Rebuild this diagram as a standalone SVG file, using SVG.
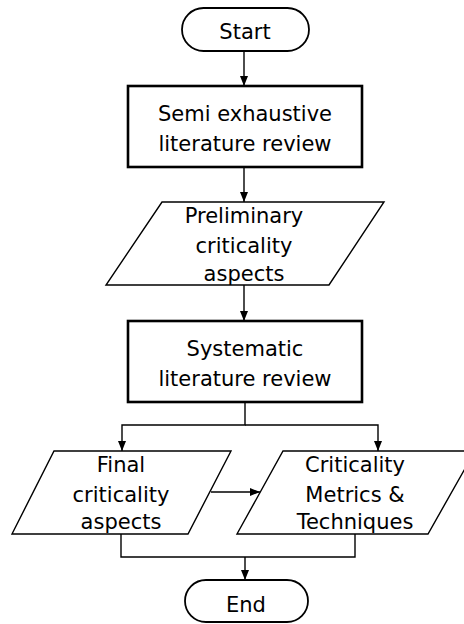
<svg xmlns="http://www.w3.org/2000/svg" width="464" height="624" viewBox="0 0 464 624">
<defs>
<marker id="ah" markerUnits="userSpaceOnUse" markerWidth="10" markerHeight="10" viewBox="0 0 10 10" refX="10" refY="5" orient="auto">
<path d="M0,1 L10,5 L0,9 Z" fill="#000"/>
</marker>
<style>
text{font-family:"DejaVu Sans","Liberation Sans",sans-serif;font-size:21px;fill:#000;text-anchor:middle}
.term{fill:#fff;stroke:#000;stroke-width:1.8}
.proc{fill:#fff;stroke:#000;stroke-width:2.6}
.io{fill:#fff;stroke:#000;stroke-width:1.4}
.c{fill:none;stroke:#000;stroke-width:1.4}
</style>
</defs>
<rect width="464" height="624" fill="#fff"/>
<g id="connectors">
<line class="c" x1="244" y1="51" x2="244" y2="86" marker-end="url(#ah)"/>
<line class="c" x1="244" y1="167" x2="244" y2="202" marker-end="url(#ah)"/>
<line class="c" x1="244" y1="285" x2="244" y2="321" marker-end="url(#ah)"/>
<polyline class="c" points="245,402 245,425 122,425 122,451" marker-end="url(#ah)"/>
<polyline class="c" points="245,425 378,425 378,451" marker-end="url(#ah)"/>
<line class="c" x1="211" y1="492" x2="260" y2="492" marker-end="url(#ah)"/>
<polyline class="c" points="121,534 121,557 355,557 355,534"/>
<line class="c" x1="245" y1="557" x2="245" y2="580" marker-end="url(#ah)"/>
</g>
<g id="start">
<rect class="term" x="182" y="8" width="127" height="43" rx="21.5"/>
<text x="245" y="39">Start</text>
</g>
<g id="semi">
<rect class="proc" x="128" y="86" width="234" height="81"/>
<text x="245" y="121">Semi exhaustive</text>
<text x="245" y="151">literature review</text>
</g>
<g id="prelim">
<polygon class="io" points="162,202 384,202 329,285 106,285"/>
<text x="244" y="223">Preliminary</text>
<text x="244" y="253">criticality</text>
<text x="244" y="281">aspects</text>
</g>
<g id="systematic">
<rect class="proc" x="128" y="321" width="234" height="81"/>
<text x="245" y="356">Systematic</text>
<text x="245" y="386">literature review</text>
</g>
<g id="final">
<polygon class="io" points="54,451 231,451 188,534 12,534"/>
<text x="121" y="472">Final</text>
<text x="121" y="502">criticality</text>
<text x="121" y="529">aspects</text>
</g>
<g id="metrics">
<polygon class="io" points="283,451 475,451 428,534 237,534"/>
<text x="355" y="472">Criticality</text>
<text x="355" y="502">Metrics &amp;</text>
<text x="355" y="529">Techniques</text>
</g>
<g id="end">
<rect class="term" x="185" y="580" width="123" height="42" rx="21"/>
<text x="246" y="612">End</text>
</g>
</svg>
